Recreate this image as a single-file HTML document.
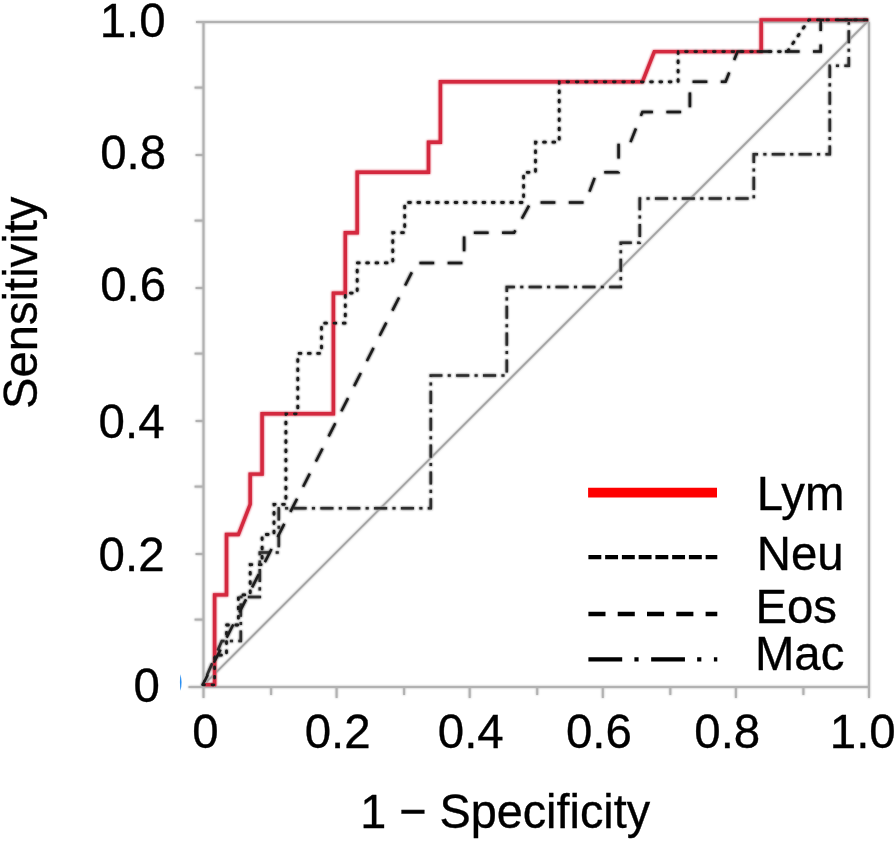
<!DOCTYPE html>
<html lang="en">
<head>
<meta charset="utf-8">
<title>ROC curves</title>
<style>html,body{margin:0;padding:0;background:#fff}body{width:896px;height:842px;overflow:hidden}svg{display:block}</style>
</head>
<body>
<svg width="896" height="842" viewBox="0 0 896 842">
<rect width="896" height="842" fill="#fff"/>
<defs><filter id="soft" x="-5%" y="-5%" width="110%" height="110%"><feGaussianBlur stdDeviation="0.8"/></filter></defs>
<use href="#plot" filter="url(#soft)"/>
<g id="plot" fill="none">
<g stroke="#b2b2b2" stroke-width="2">
<path d="M188.5,687.0 H869.0 M203.5,22.0 V698 M196,22.0 H869.0 M869.0,22.0 V698"/>
<path d="M194.6,619.6 H203.5"/>
<path d="M195.6,554.0 H203.5"/>
<path d="M194.6,486.6 H203.5"/>
<path d="M195.6,421.0 H203.5"/>
<path d="M194.6,353.6 H203.5"/>
<path d="M195.6,288.0 H203.5"/>
<path d="M194.6,220.6 H203.5"/>
<path d="M195.6,155.0 H203.5"/>
<path d="M194.6,87.6 H203.5"/>
<path d="M271.1,687.0 V695"/>
<path d="M336.6,687.0 V698"/>
<path d="M404.1,687.0 V695"/>
<path d="M469.7,687.0 V698"/>
<path d="M537.2,687.0 V695"/>
<path d="M602.8,687.0 V698"/>
<path d="M670.3,687.0 V695"/>
<path d="M735.9,687.0 V698"/>
<path d="M803.4,687.0 V695"/>
</g>
<path d="M202.6,685.9 L868.2,20.9" stroke="#a4a4a4" stroke-width="1.7"/>
<path d="M204.5,684.8 L214.6,684.8 L214.6,594.9 L226.5,594.9 L226.5,534.5 L238.4,534.5 L250.2,504.3 L250.2,474.1 L262.1,474.1 L262.1,413.8 L333.4,413.8 L333.4,293.1 L345.3,293.1 L345.3,232.7 L357.2,232.7 L357.2,172.3 L428.5,172.3 L428.5,142.2 L440.4,142.2 L440.4,81.8 L642.4,81.8 L654.3,51.6 L761.2,51.6 L761.2,19.9 L868.2,19.9" stroke="#d4293f" stroke-width="3.4" stroke-linejoin="miter"/>
<path d="M202.8,684.8 L221.8,641.1 L240.8,641.1 L240.8,596.9 L259.8,596.9 L259.8,552.6 L278.8,552.6 L278.8,508.3 L430.8,508.3 L430.8,375.6 L506.8,375.6 L506.8,287.0 L620.8,287.0 L620.8,242.8 L639.8,242.8 L639.8,198.5 L753.8,198.5 L753.8,154.2 L829.8,154.2 L829.8,65.7 L848.8,65.7 L848.8,19.9 L867.8,19.9" stroke="#2e2e2e" stroke-width="2.5" stroke-dasharray="13.1 5.35 3.05 5.35" stroke-dashoffset="16.35"/>
<path d="M202.7,684.8 L416.6,262.9 L464.1,262.9 L464.1,232.7 L514.1,232.7 L530.7,202.5 L585.4,202.5 L596.7,172.3 L618.6,172.3 L618.6,142.2 L630.5,142.2 L642.4,112.0 L689.9,112.0 L689.9,81.8 L725.6,81.8 L737.5,51.6 L820.7,51.6 L820.7,19.9 L868.2,19.9" stroke="#1c1c1c" stroke-width="2.5" stroke-dasharray="14.7 13.5" stroke-dashoffset="3.5"/>
<path d="M202.7,684.8 L214.6,684.8 L214.6,655.2 L226.5,655.2 L226.5,625.0 L238.4,625.0 L238.4,594.9 L250.2,594.9 L250.2,564.7 L262.1,564.7 L262.1,534.5 L274.0,534.5 L274.0,504.3 L285.9,504.3 L285.9,413.8 L297.8,413.8 L297.8,353.4 L321.5,353.4 L321.5,323.2 L345.3,323.2 L345.3,293.1 L357.2,293.1 L357.2,262.9 L392.8,262.9 L392.8,232.7 L404.7,232.7 L404.7,202.5 L523.6,202.5 L523.6,172.3 L535.5,172.3 L535.5,142.2 L559.2,142.2 L559.2,81.8 L678.1,81.8 L678.1,51.6 L787.4,51.6 L808.8,19.9 L868.2,19.9" stroke="#1c1c1c" stroke-width="2.8" stroke-linecap="round" stroke-dasharray="1.8 7.5"/>
</g>
<path d="M180.3,674.3 Q182.9,682.5 180.3,690.8 Q179.5,682.5 180.3,674.3 Z" fill="#2a8ff2"/>
<path d="M588.1,492.6 H717" stroke="#fe0000" stroke-width="9.7"/>
<path d="M588.4,557.1 H717.3" stroke="#000" stroke-width="4.4" stroke-dasharray="12.9 3.85"/>
<path d="M588.4,614 H717.3" stroke="#000" stroke-width="4.4" stroke-dasharray="17.1 12.2"/>
<path d="M588.4,659.4 H717.3" stroke="#000" stroke-width="4.4" stroke-dasharray="33.8 12.2 4.2 12.55"/>
<g font-family="'Liberation Sans', Arial, sans-serif" fill="#000" stroke="#000" stroke-width="0.35">
<text transform="translate(756.71,510.20) scale(0.981,1)" font-size="48.3">Lym</text>
<text transform="translate(756.71,569.80) scale(0.981,1)" font-size="48.3">Neu</text>
<text transform="translate(755.41,623.00) scale(0.981,1)" font-size="48.3">Eos</text>
<text transform="translate(754.91,669.60) scale(0.981,1)" font-size="48.3">Mac</text>
<text transform="translate(99.66,36.50) scale(0.985,1)" font-size="48.2">1.0</text>
<text transform="translate(100.15,169.30) scale(0.985,1)" font-size="48.2">0.8</text>
<text transform="translate(100.15,300.60) scale(0.985,1)" font-size="48.2">0.6</text>
<text transform="translate(98.55,437.90) scale(0.985,1)" font-size="48.2">0.4</text>
<text transform="translate(98.55,570.80) scale(0.985,1)" font-size="48.2">0.2</text>
<text transform="translate(133.55,701.90) scale(0.985,1)" font-size="48.2">0</text>
<text transform="translate(192.35,747.60) scale(0.985,1)" font-size="48.2">0</text>
<text transform="translate(304.65,747.60) scale(0.985,1)" font-size="48.2">0.2</text>
<text transform="translate(437.75,747.60) scale(0.985,1)" font-size="48.2">0.4</text>
<text transform="translate(565.95,747.70) scale(0.985,1)" font-size="48.2">0.6</text>
<text transform="translate(694.25,747.80) scale(0.985,1)" font-size="48.2">0.8</text>
<text transform="translate(829.76,747.60) scale(0.985,1)" font-size="48.2">1.0</text>
<text transform="translate(360.16,828.40) scale(0.963,1)" font-size="48.6">1 − Specificity</text>
<text transform="translate(37.3,408.97) rotate(-90) scale(0.975,1)" font-size="48.4">Sensitivity</text>
</g>
</svg>
</body>
</html>
